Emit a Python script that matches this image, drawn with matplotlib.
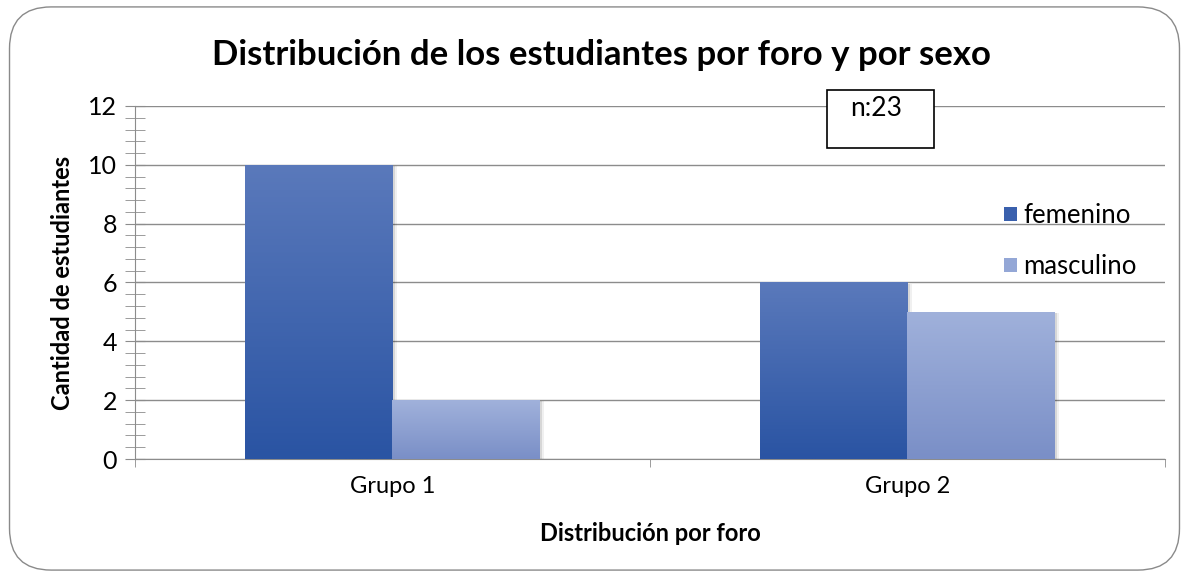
import numpy as np
import matplotlib.pyplot as plt
from matplotlib.patches import FancyBboxPatch, Rectangle
from matplotlib.ticker import MultipleLocator, FixedLocator

grupos = ['Grupo 1', 'Grupo 2']
femenino = [10, 6]
masculino = [2, 5]

plt.rcParams['font.family'] = ['Lato', 'DejaVu Sans']

fig = plt.figure(figsize=(11.89, 5.77), dpi=100)
ax = fig.add_axes([0.1135, 0.2045, 0.8663, 0.6118])

# rounded outer frame
frame = FancyBboxPatch((0.008, 0.012), 0.984, 0.976, boxstyle='round,pad=0,rounding_size=0.035',
                       transform=fig.transFigure, facecolor='none', edgecolor='#8a8a8a', lw=1.0,
                       mutation_aspect=1189 / 577)
fig.patches.append(frame)

x = np.arange(len(grupos))
w = 0.287

def gradient_bars(xs, hs, top, bottom):
    cmap = plt.matplotlib.colors.LinearSegmentedColormap.from_list('g', [bottom, top])
    grad = np.linspace(0, 1, 100).reshape(-1, 1)
    for xi, h in zip(xs, hs):
        # soft shadow
        for k, a in [(0.004, 0.10), (0.008, 0.06)]:
            ax.add_patch(Rectangle((xi + k, -0.04), w, h, facecolor='#000000', alpha=a,
                                   lw=0, zorder=2))
        im = ax.imshow(grad, extent=(xi, xi + w, 0, h), origin='lower', cmap=cmap,
                       aspect='auto', zorder=3)
        r = Rectangle((xi, 0), w, h, facecolor='none', lw=0, zorder=3)
        ax.add_patch(r)
        im.set_clip_path(r)

gradient_bars(x - w, femenino, '#5a79bb', '#2a54a3')
gradient_bars(x, masculino, '#a0b1db', '#7a8fc7')

ax.set_xlim(-0.5, 1.5)
ax.set_ylim(0, 12)
ax.yaxis.set_major_locator(MultipleLocator(2))
ax.yaxis.set_minor_locator(MultipleLocator(0.4))
ax.yaxis.grid(True, color='#8c8c8c', lw=1.0, zorder=0)
ax.set_axisbelow(True)

ax.xaxis.set_major_locator(FixedLocator(x))
ax.xaxis.set_minor_locator(FixedLocator([-0.5, 0.5, 1.5]))
ax.set_xticklabels(grupos, fontsize=17)
ax.tick_params(axis='x', which='major', length=0, pad=12)
ax.tick_params(axis='x', which='minor', length=6, color='#8c8c8c', direction='out')
ax.tick_params(axis='y', which='major', length=14, color='#8c8c8c', direction='inout',
               labelsize=18, pad=6)
ax.tick_params(axis='y', which='minor', length=14, color='#8c8c8c', direction='inout')

for s in ['top', 'right']:
    ax.spines[s].set_visible(False)
for s in ['left', 'bottom']:
    ax.spines[s].set_color('#8c8c8c')

ax.set_xlabel('Distribución por foro', fontsize=17, fontweight='bold', labelpad=18)
ax.set_ylabel('Cantidad de estudiantes', fontsize=17, fontweight='bold', labelpad=10)
fig.text(0.506, 0.905, 'Distribución de los estudiantes por foro y por sexo', ha='center',
         va='center', fontsize=25, fontweight='bold')

# n box
fig.patches.append(Rectangle((827 / 1189, 1 - 148 / 577), 107 / 1189, 58 / 577,
                             transform=fig.transFigure, facecolor='white', edgecolor='black',
                             lw=1.2, zorder=5))
fig.text(876 / 1189, 1 - 108 / 577, 'n:23', ha='center', va='center', fontsize=19, zorder=6)

handles = [Rectangle((0, 0), 1, 1, facecolor='#3a60ad'),
           Rectangle((0, 0), 1, 1, facecolor='#94a7d6')]
leg = ax.legend(handles, ['femenino', 'masculino'], loc='upper left',
                bbox_to_anchor=(0.821, 0.79), frameon=False, fontsize=18.5,
                handlelength=0.5, handleheight=0.5, handletextpad=0.25, labelspacing=1.0)

plt.savefig('out.png', dpi=100)
